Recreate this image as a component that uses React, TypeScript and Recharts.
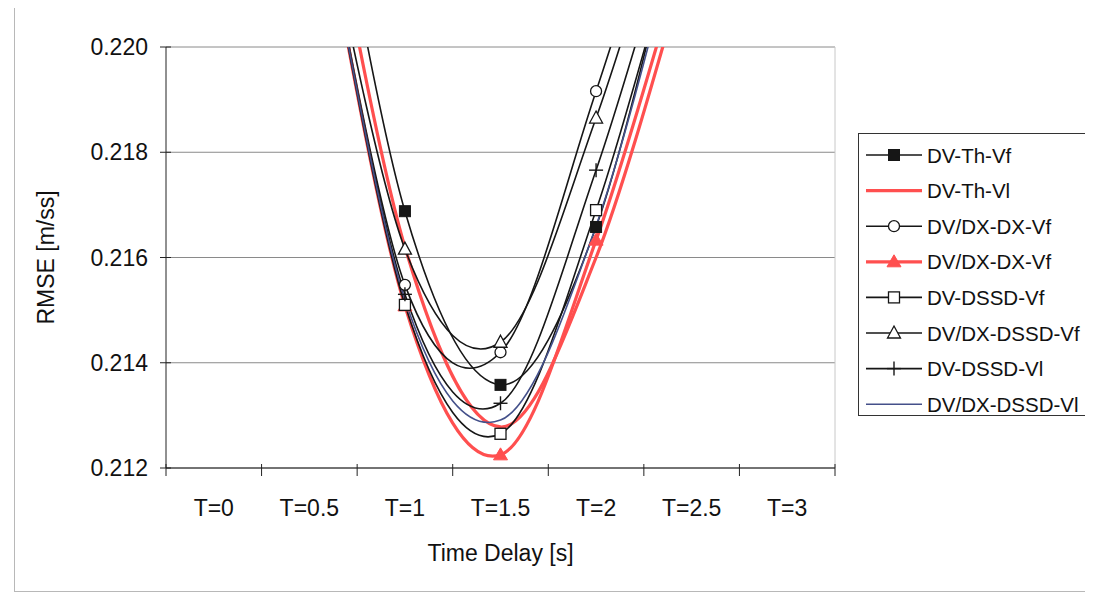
import React from 'react';
import { LineChart, Line, XAxis, YAxis, CartesianGrid, ReferenceLine } from 'recharts';

// Time-delay categories and axis ticks
const categories = ['T=0', 'T=0.5', 'T=1', 'T=1.5', 'T=2', 'T=2.5', 'T=3'];
const categoryBoundaries = [0, 1, 2, 3, 4, 5, 6, 7];
const rmseTicks = [0.212, 0.214, 0.216, 0.218, 0.22];

// RMSE [m/ss] per time delay (null = no value)
const dvThVf = [null, 0.226, 0.21688, 0.21358, 0.21658, 0.2236, null];
const dvThVl = [null, 0.225, 0.2162, 0.21278, 0.216, 0.2219, null];
const dvdxDxVf = [null, 0.224, 0.21548, 0.2142, 0.21916, 0.225, null];
const dvdxDxVfRed = [null, 0.224, 0.21508, 0.21225, 0.21633, 0.2223, null];
const dvDssdVf = [null, 0.224, 0.2151, 0.21265, 0.2169, 0.2232, null];
const dvdxDssdVf = [null, 0.224, 0.21616, 0.21439, 0.21865, 0.2245, null];
const dvDssdVl = [null, 0.224, 0.2153, 0.21323, 0.21766, 0.2237, null];
const dvdxDssdVl = [null, 0.224, 0.2152, 0.21291, 0.2166, 0.2232, null];

const seriesNames = [
  'DV-Th-Vf',
  'DV-Th-Vl',
  'DV/DX-DX-Vf',
  'DV/DX-DX-Vf',
  'DV-DSSD-Vf',
  'DV/DX-DSSD-Vf',
  'DV-DSSD-Vl',
  'DV/DX-DSSD-Vl',
];
const seriesValues = [dvThVf, dvThVl, dvdxDxVf, dvdxDxVfRed, dvDssdVf, dvdxDssdVf, dvDssdVl, dvdxDssdVl];

const data = categories.map((label, i) => {
  const row: Record<string, any> = { label, pos: i + 0.5 };
  seriesValues.forEach((vals, s) => {
    row[`s${s}`] = vals[i];
  });
  return row;
});

const FONT = '"Liberation Sans", Arial, sans-serif';
const RED = '#ff4f4f';
const BLUE = '#44508a';
const BLACK = '#161616';
const AXIS = '#222';

// Smoothed line like a spreadsheet's "smoothed line" option (Catmull-Rom Bezier)
function smoothCurve(context: any) {
  let pts: number[][] = [];
  return {
    areaStart() {},
    areaEnd() {},
    lineStart() {
      pts = [];
    },
    point(x: number, y: number) {
      pts.push([+x, +y]);
    },
    lineEnd() {
      const n = pts.length;
      if (n === 0) return;
      context.moveTo(pts[0][0], pts[0][1]);
      if (n === 1) {
        context.lineTo(pts[0][0], pts[0][1]);
        return;
      }
      for (let i = 0; i < n - 1; i++) {
        const p0 = pts[Math.max(i - 1, 0)];
        const p1 = pts[i];
        const p2 = pts[i + 1];
        const p3 = pts[Math.min(i + 2, n - 1)];
        context.bezierCurveTo(
          p1[0] + (p2[0] - p0[0]) / 6,
          p1[1] + (p2[1] - p0[1]) / 6,
          p2[0] - (p3[0] - p1[0]) / 6,
          p2[1] - (p3[1] - p1[1]) / 6,
          p2[0],
          p2[1]
        );
      }
    },
  };
}

type MarkerKind = 'filledSquare' | 'none' | 'circle' | 'redTriangle' | 'square' | 'triangle' | 'plus';

function Marker({ kind, cx, cy }: { kind: MarkerKind; cx: number; cy: number }) {
  switch (kind) {
    case 'filledSquare':
      return <rect x={cx - 5.5} y={cy - 5.5} width={11} height={11} fill={BLACK} stroke={BLACK} />;
    case 'circle':
      return <circle cx={cx} cy={cy} r={5.5} fill="#fff" stroke={BLACK} strokeWidth={1.3} />;
    case 'redTriangle':
      return <path d={`M${cx},${cy - 7}L${cx + 7},${cy + 5}L${cx - 7},${cy + 5}Z`} fill={RED} stroke={RED} />;
    case 'square':
      return <rect x={cx - 5.5} y={cy - 5.5} width={11} height={11} fill="#fff" stroke={BLACK} strokeWidth={1.3} />;
    case 'triangle':
      return (
        <path
          d={`M${cx},${cy - 7}L${cx + 6.5},${cy + 5}L${cx - 6.5},${cy + 5}Z`}
          fill="#fff"
          stroke={BLACK}
          strokeWidth={1.3}
        />
      );
    case 'plus':
      return (
        <g stroke={BLACK} strokeWidth={1.4}>
          <line x1={cx - 7} y1={cy} x2={cx + 7} y2={cy} />
          <line x1={cx} y1={cy - 7} x2={cx} y2={cy + 7} />
        </g>
      );
    default:
      return null;
  }
}

const seriesStyles: { color: string; width: number; marker: MarkerKind }[] = [
  { color: BLACK, width: 1.6, marker: 'filledSquare' },
  { color: RED, width: 3.2, marker: 'none' },
  { color: BLACK, width: 1.6, marker: 'circle' },
  { color: RED, width: 3.2, marker: 'redTriangle' },
  { color: BLACK, width: 1.6, marker: 'square' },
  { color: BLACK, width: 1.6, marker: 'triangle' },
  { color: BLACK, width: 1.6, marker: 'plus' },
  { color: BLUE, width: 1.6, marker: 'none' },
];

const makeDot = (kind: MarkerKind) => (props: any) => {
  const { cx, cy, index, value } = props;
  if (kind === 'none' || cx == null || cy == null || value == null) return <g key={`d${index}`} />;
  return (
    <g key={`d${index}`}>
      <Marker kind={kind} cx={cx} cy={cy} />
    </g>
  );
};

// Cross-style tick mark on the category axis (label-less; labels come from the band axis)
const BoundaryTick = (props: any) => {
  const { x, y, index } = props;
  return <line key={`bt${index}`} x1={x} y1={y - 4} x2={x} y2={y + 8} stroke={AXIS} strokeWidth={1} />;
};

// Value-axis tick: cross-style mark plus the formatted value
const ValueTick = (props: any) => {
  const { x, y, payload, index } = props;
  return (
    <g key={`vt${index}`}>
      <line x1={x + 12} y1={y} x2={x + 23} y2={y} stroke={AXIS} strokeWidth={1} />
      <text x={x} y={y} textAnchor="end" dominantBaseline="central" fontFamily={FONT} fontSize={23} fill="#111">
        {Number(payload.value).toFixed(3)}
      </text>
    </g>
  );
};

const YLabel = (props: any) => {
  const vb = props.viewBox || {};
  const cx = 46;
  const cy = vb.y + vb.height / 2;
  return (
    <text
      x={cx}
      y={cy}
      transform={`rotate(-90, ${cx}, ${cy})`}
      textAnchor="middle"
      dominantBaseline="central"
      fontFamily={FONT}
      fontSize={23}
      fill="#111"
    >
      RMSE [m/ss]
    </text>
  );
};

function Legend() {
  const top = 133;
  const rowStep = 35.6;
  const firstRow = 155;
  return (
    <svg width={1093} height={600} style={{ position: 'absolute', left: 0, top: 0, pointerEvents: 'none' }}>
      <rect x={858.5} y={top + 0.5} width={229} height={282} fill="#fff" stroke="#333" strokeWidth={1} />
      {seriesNames.map((name, i) => {
        const st = seriesStyles[i];
        const y = firstRow + i * rowStep;
        return (
          <g key={name + i}>
            <line x1={866} y1={y} x2={922} y2={y} stroke={st.color} strokeWidth={st.width} />
            <Marker kind={st.marker} cx={894} cy={y} />
            <text x={927} y={y} dominantBaseline="central" fontFamily={FONT} fontSize={20.5} fill="#111">
              {name}
            </text>
          </g>
        );
      })}
    </svg>
  );
}

export default function App() {
  return (
    <div style={{ position: 'relative', width: 1093, height: 600, margin: -8, background: '#fff', fontFamily: FONT }}>
      <div
        style={{
          position: 'absolute',
          left: 14,
          top: 6,
          width: 1075,
          height: 584,
          border: '1px solid #b8b8b8',
        }}
      />
      <div style={{ position: 'absolute', left: 0, top: 0 }}>
        <LineChart width={860} height={600} data={data} margin={{ top: 47, right: 25, left: 56, bottom: 30 }}>
          <CartesianGrid xAxisId={0} vertical={false} stroke="#8a8a8a" strokeWidth={1} />
          <ReferenceLine xAxisId={0} x={7} stroke="#c8c8c8" />
          <XAxis
            xAxisId={0}
            type="number"
            dataKey="pos"
            domain={[0, 7]}
            ticks={categoryBoundaries}
            tick={BoundaryTick}
            tickLine={false}
            tickSize={0}
            tickMargin={0}
            height={12}
            allowDataOverflow
            axisLine={{ stroke: AXIS }}
          />
          <XAxis
            xAxisId={1}
            dataKey="label"
            type="category"
            scale="band"
            interval={0}
            axisLine={false}
            tickLine={false}
            tickSize={0}
            tickMargin={20}
            height={90}
            tick={{ fontSize: 23, fill: '#111', fontFamily: FONT }}
            label={{
              value: 'Time Delay [s]',
              position: 'insideBottom',
              offset: 9,
              style: { fontSize: 23, fill: '#111', fontFamily: FONT },
            }}
          />
          <YAxis
            type="number"
            domain={[0.212, 0.22]}
            ticks={rmseTicks}
            allowDataOverflow
            width={110}
            tickSize={6}
            tickMargin={12}
            tickLine={false}
            axisLine={{ stroke: AXIS }}
            tick={ValueTick}
            label={{ content: YLabel }}
          />
          {seriesValues.map((_, i) => (
            <Line
              key={`s${i}`}
              xAxisId={0}
              dataKey={`s${i}`}
              name={seriesNames[i]}
              type={smoothCurve as any}
              stroke={seriesStyles[i].color}
              strokeWidth={seriesStyles[i].width}
              dot={makeDot(seriesStyles[i].marker)}
              activeDot={false}
              isAnimationActive={false}
            />
          ))}
        </LineChart>
      </div>
      <Legend />
    </div>
  );
}
